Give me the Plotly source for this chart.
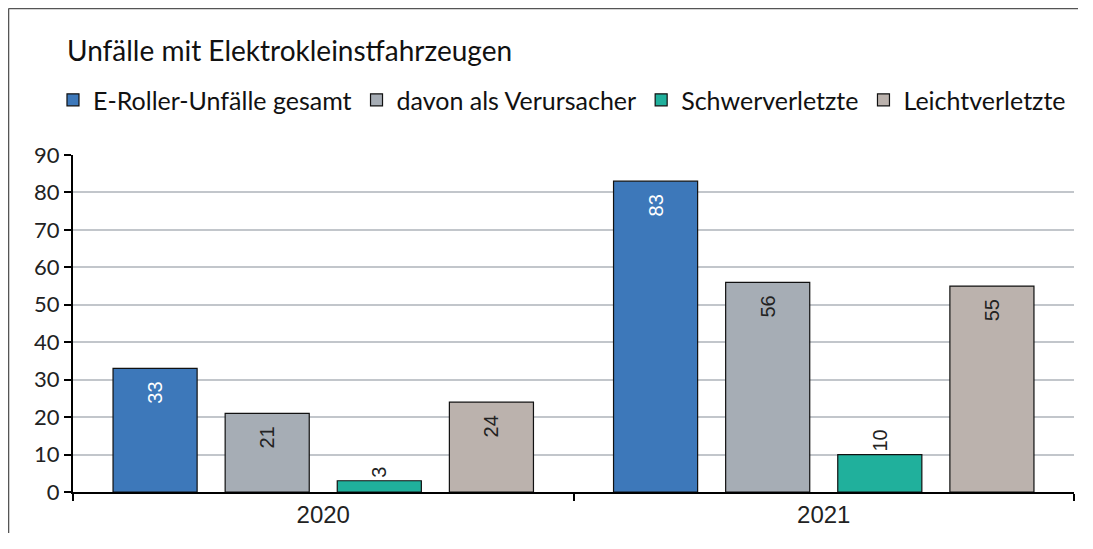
"""
Unfälle mit Elektrokleinstfahrzeugen — grouped bar chart.
"""

import plotly.graph_objects as go

YEARS = ["2020", "2021"]
SERIES = ["E-Roller-Unfälle gesamt", "davon als Verursacher", "Schwerverletzte", "Leichtverletzte"]
VALUES = [
    [33, 83],
    [21, 56],
    [3, 10],
    [24, 55],
]
COLORS = ["#3D78BA", "#A6ADB5", "#20B09C", "#BBB2AD"]
TEXT_COLORS = ["#FFFFFF", "#222222", "#222222", "#222222"]
TEXT_POS = ["inside", "inside", "outside", "inside"]

Y_TICKS = list(range(0, 91, 10))

SANS = "Lato, 'Open Sans', sans-serif"
ARIAL = "'Liberation Sans', Arial, sans-serif"

# page body has an 8px margin; keep the figure well inside the window
W, H = 1070, 525

fig = go.Figure()
for name, vals, color, tcol, tpos in zip(SERIES, VALUES, COLORS, TEXT_COLORS, TEXT_POS):
    # en space pushes inside labels a little away from the bar end
    pad = "\u2002" if tpos == "inside" else ""
    fig.add_trace(go.Bar(
        x=YEARS,
        y=vals,
        name=name,
        marker_color=color,
        marker_line_color="#111111",
        marker_line_width=1.2,
        text=[f"{v}{pad}" for v in vals],
        textposition=tpos,
        insidetextanchor="end",
        textangle=-90,
        textfont=dict(family=ARIAL, size=20, color=tcol),
        outsidetextfont=dict(family=ARIAL, size=20, color=tcol),
        cliponaxis=False,
    ))

# outer frame: only left and top edges are visible in the original
fig.add_shape(
    type="line", xref="paper", yref="paper",
    x0=-0.0644, x1=-0.0644, y0=-0.2, y1=1.4347,
    line=dict(color="#555555", width=1.5),
)
fig.add_shape(
    type="line", xref="paper", yref="paper",
    x0=-0.0644, x1=1.2, y0=1.4347, y1=1.4347,
    line=dict(color="#555555", width=1.5),
)

fig.update_layout(
    width=W,
    height=H,
    margin=dict(l=65, r=4, t=147, b=41),
    paper_bgcolor="white",
    plot_bgcolor="white",
    barmode="group",
    bargap=0.104,
    bargroupgap=0.25,
    title=dict(
        text="Unfälle mit Elektrokleinstfahrzeugen",
        font=dict(family=SANS, size=28, color="#111111"),
        xref="container", x=59 / W, xanchor="left",
        yref="container", y=1 - 43 / H, yanchor="middle",
    ),
    legend=dict(
        orientation="h",
        x=-0.02, xanchor="left",
        y=1.163, yanchor="middle",
        font=dict(family=SANS, size=25, color="#111111"),
        itemwidth=30,
        traceorder="normal",
    ),
    xaxis=dict(
        showline=True, linecolor="#000000", linewidth=2,
        ticks="outside", tickson="boundaries", ticklen=7, tickwidth=2, tickcolor="#000000",
        tickfont=dict(family=ARIAL, size=24, color="#222222"),
        showgrid=False,
    ),
    yaxis=dict(
        range=[0, 90],
        tickvals=Y_TICKS,
        showline=True, linecolor="#000000", linewidth=2,
        ticks="outside", ticklen=7, tickwidth=2, tickcolor="#000000",
        tickfont=dict(family=SANS, size=22, color="#222222"),
        showgrid=True, gridcolor="#C2C6CB", gridwidth=1.5,
        zeroline=False,
    ),
)

fig.write_html("out.html")
